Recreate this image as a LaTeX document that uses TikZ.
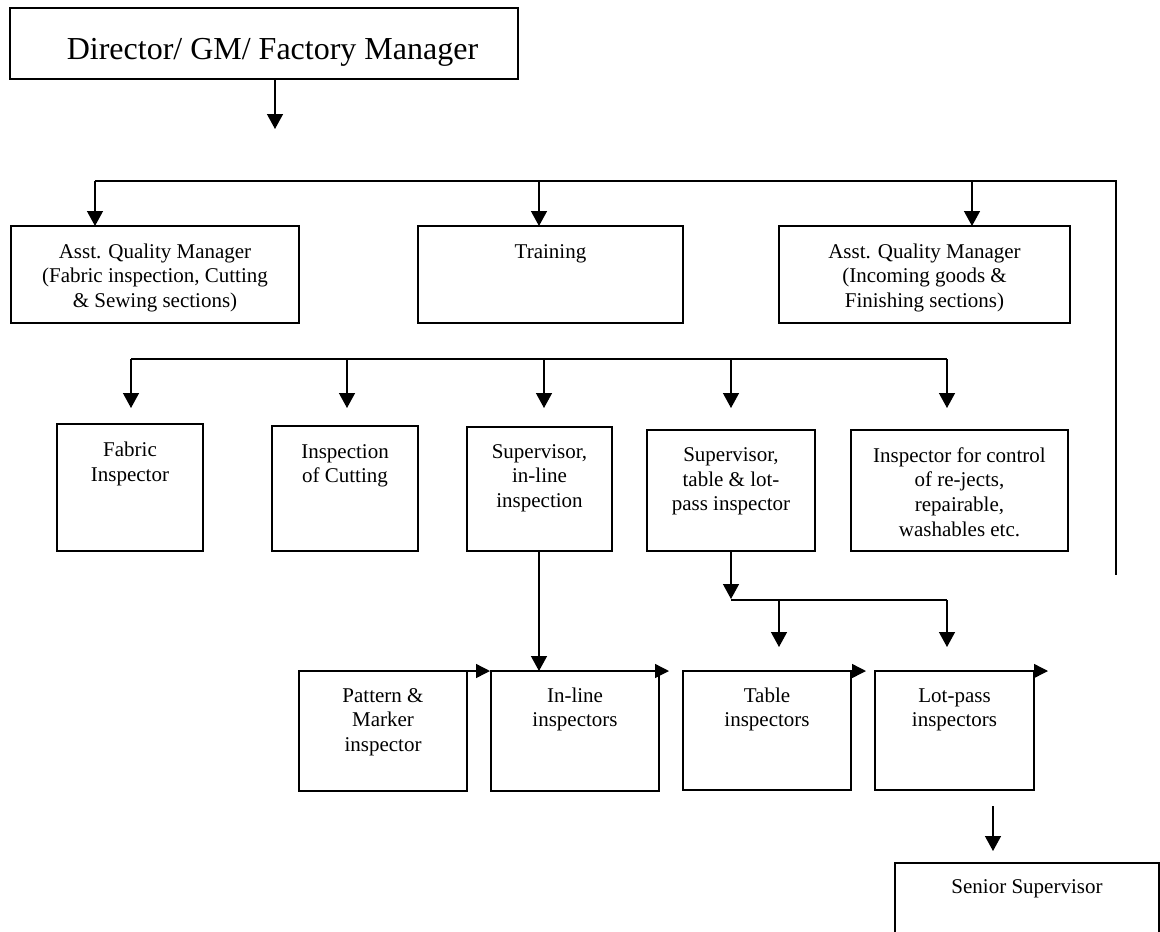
\documentclass[tikz,border=0pt]{standalone}
\usepackage{fontspec}
\setmainfont{Liberation Serif}
\usetikzlibrary{arrows.meta}
% box text: width, height, top padding, lines (top aligned, centred)
\newcommand{\bxtext}[4]{\parbox[c][#2][t]{#1}{\centering\vspace*{#3}\strut #4}}
\tikzset{
  box/.style={draw, line width=1.3pt, inner sep=0pt, outer sep=0pt, anchor=north west,
              font=\fontsize{21}{24.6}\selectfont},
  con/.style={line width=1.4pt},
  arr/.style={con, -{Triangle[length=15pt,width=16pt]}},
  sidearr/.style={con, -{Triangle[length=14pt,width=14pt]}},
}
\begin{document}
\begin{tikzpicture}[x=1pt, y=-1pt]
\useasboundingbox (0,0) rectangle (1160,932);
\fill[white] (0,0) rectangle (1160,932);
\clip (0,0) rectangle (1160,932);

% top level
\node[box, font=\fontsize{32}{38.4}\selectfont] (dir) at (10,8)
  {\bxtext{508pt}{71pt}{25pt}{\hspace*{17pt}Director/ GM/ Factory Manager}};
\coordinate (d0) at (275,129);
\draw[arr] (d0 |- dir.south) -- (d0);

% second level
\node[box] (aqm1) at (11,226) {\bxtext{288pt}{97pt}{15pt}{Asst. Quality Manager\\(Fabric inspection, Cutting\\\& Sewing sections)}};
\node[box] (trn)  at (418,226) {\bxtext{265pt}{97pt}{15pt}{Training}};
\node[box] (aqm2) at (779,226) {\bxtext{291pt}{97pt}{15pt}{Asst. Quality Manager\\(Incoming goods \&\\Finishing sections)}};

\coordinate (b1) at (95,181);
\coordinate (b2) at (539,181);
\coordinate (b3) at (972,181);
\coordinate (bR) at (1116,181);
\coordinate (bRend) at (1116,575);
\draw[con] (b1) -- (bR) -- (bRend);
\draw[arr] (b1) -- (b1 |- aqm1.north);
\draw[arr] (b2) -- (b2 |- trn.north);
\draw[arr] (b3) -- (b3 |- aqm2.north);

% third level
\node[box] (fab)    at (57,424)  {\bxtext{146pt}{127pt}{15.5pt}{Fabric\\Inspector}};
\node[box] (cut)    at (272,426) {\bxtext{146pt}{125pt}{15pt}{Inspection\\of Cutting}};
\node[box] (insup)  at (467,427) {\bxtext{145pt}{124pt}{14pt}{Supervisor,\\in-line\\inspection}};
\node[box] (tabsup) at (647,430) {\bxtext{168pt}{121pt}{14.5pt}{Supervisor,\\table \& lot-\\pass inspector}};
\node[box] (rej)    at (851,430) {\bxtext{217pt}{121pt}{15pt}{Inspector for control\\of re-jects,\\repairable,\\washables etc.}};

\coordinate (m1) at (131,359);
\coordinate (m2) at (347,359);
\coordinate (m3) at (544,359);
\coordinate (m4) at (731,359);
\coordinate (m5) at (947,359);
\draw[con] (m1) -- (m5);
\foreach \m in {m1,m2,m3,m4,m5}
  \draw[arr] (\m) -- ++(0,49);

% fourth level
\node[box] (pat) at (299,671) {\bxtext{168pt}{120pt}{14pt}{Pattern \&\\Marker\\inspector}};
\node[box] (inl) at (491,671) {\bxtext{168pt}{120pt}{14pt}{In-line\\inspectors}};
\node[box] (tab) at (683,671) {\bxtext{168pt}{119pt}{14pt}{Table\\inspectors}};
\node[box] (lot) at (875,671) {\bxtext{159pt}{119pt}{14pt}{Lot-pass\\inspectors}};

\coordinate (v1) at (539,671);
\draw[arr] (insup.south -| v1) -- (v1);

\coordinate (t1) at (731,599);
\coordinate (t2) at (779,600);
\coordinate (t3) at (947,600);
\draw[arr] (tabsup.south -| t1) -- (t1);
\draw[con] (731,600) -- (t3);
\draw[arr] (t2) -- ++(0,47);
\draw[arr] (t3) -- ++(0,47);

\draw[sidearr] ([xshift=-10pt]pat.north east) -- ([xshift=23pt]pat.north east);
\draw[sidearr] ([xshift=-20pt]inl.north east) -- ([xshift=10pt]inl.north east);
\draw[sidearr] ([xshift=-20pt]tab.north east) -- ([xshift=15pt]tab.north east);
\draw[sidearr] ([xshift=-20pt]lot.north east) -- ([xshift=14pt]lot.north east);

% senior supervisor
\coordinate (s0) at (993,806);
\coordinate (s1) at (993,851);
\draw[arr] (s0) -- (s1);
\node[box] (sen) at (895,863) {\bxtext{264pt}{100pt}{13pt}{Senior Supervisor}};
\end{tikzpicture}
\end{document}
